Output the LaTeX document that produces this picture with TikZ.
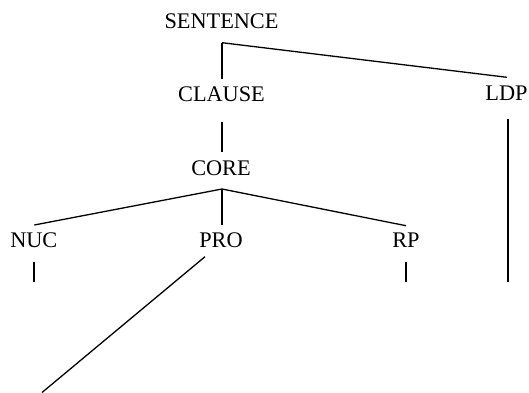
\documentclass[tikz,border=0pt]{standalone}
\usepackage{fontspec}
\setmainfont{Liberation Serif}
\begin{document}
\begin{tikzpicture}[x=1pt,y=-1pt,
  lbl/.style={anchor=base,inner sep=0pt,font=\fontsize{22.3}{26}\selectfont},
  edge/.style={line width=1.3pt,line cap=butt},
  vedge/.style={line width=2pt,line cap=butt}]
\useasboundingbox (0,0) rectangle (529,392);
\node[lbl] (sentence) at (221.5,28) {SENTENCE};
\node[lbl] (clause) at (221.5,101) {CLAUSE};
\node[lbl] (ldp) at (506.5,100) {LDP};
\node[lbl] (core) at (221,175) {CORE};
\node[lbl] (nuc) at (33.8,247) {NUC};
\node[lbl] (pro) at (221,247) {PRO};
\node[lbl] (rp) at (406,247) {RP};
\coordinate (sj) at ([xshift=0.5pt,yshift=-14.7pt]sentence.base);
\coordinate (cj) at ([xshift=1pt,yshift=-14pt]core.base);
\coordinate (ldpend) at (508,282.3);
\coordinate (nucend) at (34,282.3);
\coordinate (rpend) at (406,282.3);
\coordinate (proend) at (42,392.5);
\draw[vedge] ([xshift=0.5pt,yshift=21.7pt]clause.base) -- (sj);
\draw[edge] (sj) -- ([xshift=0.5pt,yshift=22.7pt]ldp.base);
\draw[vedge] ([xshift=0.5pt,yshift=-21pt]clause.base) -- ([xshift=1pt,yshift=23.3pt]core.base);
\draw[vedge] ([xshift=1.5pt,yshift=-19.3pt]ldp.base) -- (ldpend);
\draw[edge] ([xshift=0.5pt,yshift=22pt]nuc.base) -- (cj);
\draw[vedge] (cj) -- ([xshift=1pt,yshift=22pt]pro.base);
\draw[edge] (cj) -- ([yshift=21.3pt]rp.base);
\draw[vedge] ([xshift=0.2pt,yshift=-14.7pt]nuc.base) -- (nucend);
\draw[vedge] ([yshift=-14.7pt]rp.base) -- (rpend);
\draw[edge] ([xshift=-16pt,yshift=-9.7pt]pro.base) -- (proend);
\end{tikzpicture}
\end{document}
